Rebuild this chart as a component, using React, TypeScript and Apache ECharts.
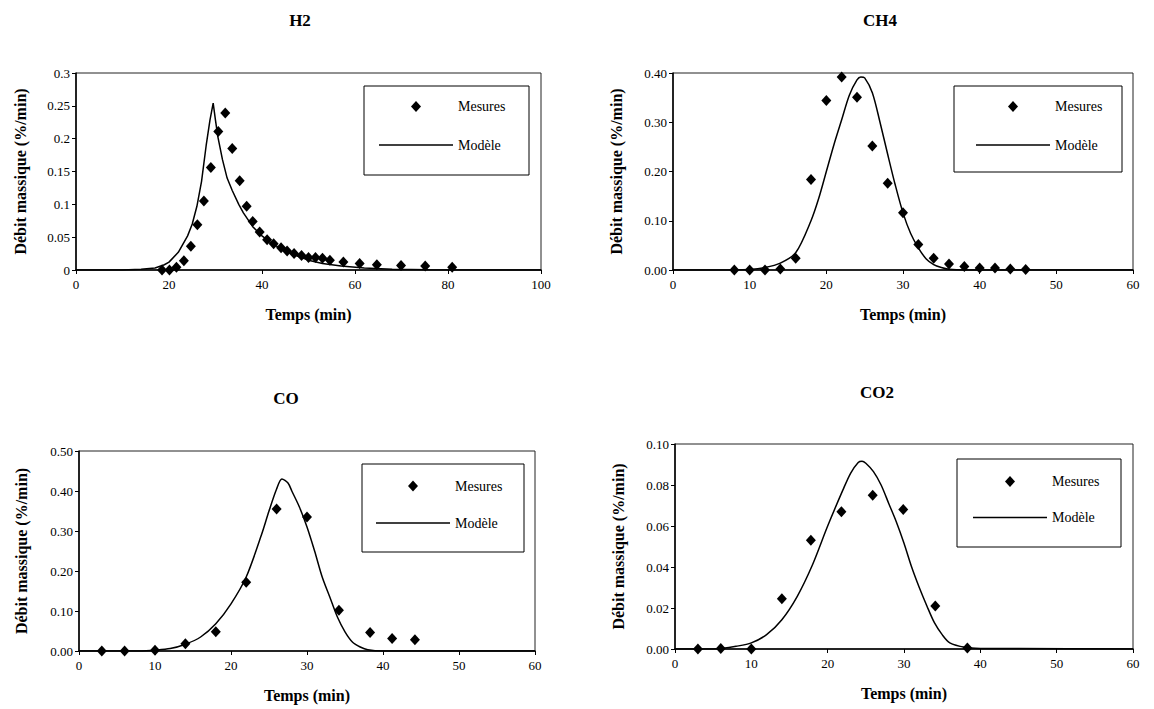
import React, { useEffect, useRef } from "react";
import * as echarts from "echarts";

// ---------- DATA ----------
const TITLES = ["H2", "CH4", "CO", "CO2"];
const X_NAME = "Temps (min)";
const Y_NAME = "Débit massique (%/min)";
const LEGEND_NAMES = ["Mesures", "Modèle"];

// H2
const H2_MES_X = [18.5, 20.1, 21.6, 23.2, 24.7, 26.1, 27.5, 29.0, 30.6, 32.1, 33.6, 35.2, 36.7, 38.0, 39.5, 41.1, 42.5, 44.1, 45.4, 46.9, 48.5, 50.0, 51.5, 53.0, 54.6, 57.5, 61.0, 64.7, 69.9, 75.1, 80.9];
const H2_MES_Y = [0, 0, 0.004, 0.014, 0.036, 0.069, 0.105, 0.156, 0.211, 0.239, 0.185, 0.136, 0.097, 0.074, 0.058, 0.046, 0.040, 0.034, 0.029, 0.025, 0.022, 0.019, 0.019, 0.018, 0.015, 0.012, 0.010, 0.008, 0.007, 0.006, 0.004];
const H2_MOD_X = [0, 10, 14, 17, 19, 20, 22, 24, 25, 26, 27, 28, 28.8, 29.5, 30, 30.5, 31.5, 32.5, 33.6, 35, 36, 38, 40, 42, 44, 46, 48, 50, 53, 57, 62, 68, 76, 100];
const H2_MOD_Y = [0, 0, 0.001, 0.003, 0.008, 0.012, 0.027, 0.052, 0.07, 0.097, 0.135, 0.19, 0.228, 0.254, 0.228, 0.203, 0.168, 0.14, 0.121, 0.1, 0.087, 0.066, 0.052, 0.041, 0.033, 0.026, 0.02, 0.015, 0.01, 0.006, 0.003, 0.001, 0.0005, 0];

// CH4
const CH4_MES_X = [8, 10, 12, 14, 16, 18, 20, 22, 24, 26, 28, 30, 32, 34, 36, 38, 40, 42, 44, 46];
const CH4_MES_Y = [0, 0, 0, 0.002, 0.024, 0.184, 0.344, 0.392, 0.351, 0.252, 0.176, 0.116, 0.052, 0.024, 0.012, 0.007, 0.004, 0.004, 0.002, 0.001];
const CH4_MOD_X = [0, 8, 10, 12, 14, 16, 18, 19, 20, 21, 22, 23, 24, 24.5, 25, 26, 27, 28, 29, 30, 31, 32, 33, 34, 35, 36, 38, 60];
const CH4_MOD_Y = [0, 0, 0.001, 0.005, 0.014, 0.035, 0.1, 0.145, 0.2, 0.255, 0.305, 0.355, 0.386, 0.392, 0.39, 0.36, 0.3, 0.235, 0.172, 0.116, 0.074, 0.045, 0.023, 0.011, 0.005, 0.0015, 0, 0];

// CO
const CO_MES_X = [3, 6, 10, 14, 18, 22, 26, 30, 34.2, 38.3, 41.2, 44.2];
const CO_MES_Y = [0, 0, 0.002, 0.018, 0.048, 0.172, 0.355, 0.335, 0.102, 0.046, 0.031, 0.028];
const CO_MOD_X = [0, 8, 10, 12, 14, 16, 18, 20, 22, 24, 25, 26, 26.7, 27.5, 28, 29, 30, 31, 32, 33, 34, 35, 36, 37, 38, 40, 60];
const CO_MOD_Y = [0, 0, 0.002, 0.006, 0.017, 0.035, 0.068, 0.118, 0.185, 0.29, 0.35, 0.405, 0.43, 0.42, 0.4, 0.36, 0.31, 0.25, 0.185, 0.135, 0.085, 0.048, 0.022, 0.01, 0.003, 0, 0];

// CO2
const CO2_MES_X = [3, 6, 10, 14, 17.8, 21.8, 25.9, 29.9, 34.1, 38.3];
const CO2_MES_Y = [0, 0.0003, 0, 0.0245, 0.053, 0.067, 0.075, 0.068, 0.021, 0.0005];
const CO2_MOD_X = [0, 5, 6, 8, 10, 12, 14, 16, 18, 20, 22, 23, 24, 24.5, 25, 26, 27, 28, 29, 30, 31, 32, 33, 34, 35, 36, 38, 40, 45, 60];
const CO2_MOD_Y = [0, 0, 0.0002, 0.0013, 0.003, 0.007, 0.0143, 0.0256, 0.041, 0.06, 0.0776, 0.0857, 0.091, 0.0916, 0.0906, 0.0865, 0.08, 0.071, 0.062, 0.0516, 0.04, 0.03, 0.021, 0.0127, 0.007, 0.003, 0.0008, 0.0003, 0.0002, 0];

// axis ranges
const X_MAX = [100, 60, 60, 60];
const X_INTERVAL = [20, 10, 10, 10];
const Y_MAX = [0.3, 0.4, 0.5, 0.1];
const Y_INTERVAL = [0.05, 0.1, 0.1, 0.02];
const Y_DECIMALS = [-1, 2, 2, 2];

const zip = (xs: number[], ys: number[]) => xs.map((x, i) => [x, ys[i]]);
const MES = [zip(H2_MES_X, H2_MES_Y), zip(CH4_MES_X, CH4_MES_Y), zip(CO_MES_X, CO_MES_Y), zip(CO2_MES_X, CO2_MES_Y)];
const MOD = [zip(H2_MOD_X, H2_MOD_Y), zip(CH4_MOD_X, CH4_MOD_Y), zip(CO_MOD_X, CO_MOD_Y), zip(CO2_MOD_X, CO2_MOD_Y)];
const SMOOTH = [false, 0.3, 0.3, 0.3];

// ---------- LAYOUT ----------
const FONT = "'Liberation Serif', 'Times New Roman', serif";
const GRIDS = [
  { left: 76, top: 73, width: 465, height: 197 },
  { left: 673, top: 73, width: 460, height: 197 },
  { left: 79, top: 451, width: 456, height: 200 },
  { left: 675, top: 444, width: 458, height: 205 },
];
const TITLE_POS = [
  [300, 20],
  [880, 20],
  [286, 398],
  [877, 392],
];
const Y_NAME_GAP = [48, 49, 50, 49];
const LEG_BOX = [
  [364, 86, 165, 89],
  [954, 86, 168, 86],
  [362, 464, 162, 88],
  [957, 459, 164, 88],
];
const LEG_POS = [
  { left: 379, top: 98.5, gap: 22.5 },
  { left: 976, top: 98.5, gap: 22.5 },
  { left: 376, top: 478, gap: 21 },
  { left: 973, top: 473.5, gap: 20 },
];
const DIAMOND_ICON = "path://M5,0L10,5.5L5,11L0,5.5Z";
const LINE_ICON = "path://M0,0L74,0L74,1.5L0,1.5Z";

function buildOption() {
  const grid = GRIDS.map((g) => ({
    ...g,
    show: true,
    borderColor: "#222",
    borderWidth: 1,
    backgroundColor: "#fff",
    containLabel: false,
  }));
  const xAxis = GRIDS.map((_, i) => ({
    type: "value",
    gridIndex: i,
    min: 0,
    max: X_MAX[i],
    interval: X_INTERVAL[i],
    name: X_NAME,
    nameLocation: "middle",
    nameGap: 36,
    nameTextStyle: { fontFamily: FONT, fontWeight: "bold", fontSize: 16, color: "#000" },
    axisLine: { show: true, onZero: false, lineStyle: { color: "#000", width: 1.5 } },
    axisTick: { show: true, inside: false, length: 4, lineStyle: { color: "#000" } },
    axisLabel: { fontFamily: FONT, fontSize: 13, color: "#000", margin: 8 },
    splitLine: { show: false },
  }));
  const yAxis = GRIDS.map((_, i) => ({
    type: "value",
    gridIndex: i,
    min: 0,
    max: Y_MAX[i],
    interval: Y_INTERVAL[i],
    name: Y_NAME,
    nameLocation: "middle",
    nameRotate: 90,
    nameGap: Y_NAME_GAP[i],
    nameTextStyle: { fontFamily: FONT, fontWeight: "bold", fontSize: 16, color: "#000" },
    axisLine: { show: true, onZero: false, lineStyle: { color: "#000", width: 1.5 } },
    axisTick: { show: true, inside: false, length: 4, lineStyle: { color: "#000" } },
    axisLabel: {
      fontFamily: FONT,
      fontSize: 13,
      color: "#000",
      margin: 6,
      formatter: (v: number) => (Y_DECIMALS[i] < 0 ? String(Number(v.toFixed(3))) : v.toFixed(Y_DECIMALS[i])),
    },
    splitLine: { show: false },
  }));
  const series: any[] = [];
  GRIDS.forEach((_, i) => {
    series.push({
      type: "scatter",
      name: LEGEND_NAMES[0],
      xAxisIndex: i,
      yAxisIndex: i,
      data: MES[i],
      symbol: "diamond",
      symbolSize: [10, 11],
      itemStyle: { color: "#000", opacity: 1 },
      z: 3,
    });
    series.push({
      type: "line",
      name: LEGEND_NAMES[1],
      xAxisIndex: i,
      yAxisIndex: i,
      data: MOD[i],
      symbol: "none",
      smooth: SMOOTH[i],
      lineStyle: { color: "#000", width: 1.5 },
      itemStyle: { color: "#000" },
      z: 2,
    });
  });
  const legend = LEG_POS.map((p) => ({
    orient: "vertical",
    left: p.left,
    top: p.top,
    padding: 0,
    itemGap: p.gap,
    itemWidth: 74,
    itemHeight: 11,
    symbolKeepAspect: true,
    data: [
      { name: LEGEND_NAMES[0], icon: DIAMOND_ICON, itemStyle: { color: "#000", opacity: 1 } },
      { name: LEGEND_NAMES[1], icon: LINE_ICON, itemStyle: { color: "#000", opacity: 1 } },
    ],
    selectedMode: false,
    textStyle: { fontFamily: FONT, fontSize: 14, color: "#000", lineHeight: 16 },
    z: 10,
  }));
  const graphic: any[] = [];
  TITLES.forEach((t, i) => {
    graphic.push({
      type: "text",
      x: TITLE_POS[i][0],
      y: TITLE_POS[i][1],
      z: 10,
      style: {
        text: t,
        font: `bold 17px ${FONT}`,
        fill: "#000",
        textAlign: "center",
        textVerticalAlign: "middle",
        verticalAlign: "middle",
      },
    });
  });
  LEG_BOX.forEach((b) => {
    graphic.push({
      type: "rect",
      x: b[0],
      y: b[1],
      z: 5,
      shape: { x: 0, y: 0, width: b[2], height: b[3] },
      style: { fill: "#fff", stroke: "#000", lineWidth: 1 },
    });
  });
  return {
    animation: false,
    backgroundColor: "#fff",
    grid,
    xAxis,
    yAxis,
    series,
    legend,
    graphic,
  };
}

export default function App() {
  const ref = useRef<HTMLDivElement>(null);
  useEffect(() => {
    if (!ref.current) return;
    const chart = echarts.init(ref.current, undefined, { renderer: "svg" });
    chart.setOption(buildOption() as any);
    return () => chart.dispose();
  }, []);
  return (
    <div
      ref={ref}
      style={{ position: "absolute", left: 0, top: 0, width: 1154, height: 709, background: "#fff" }}
    />
  );
}
